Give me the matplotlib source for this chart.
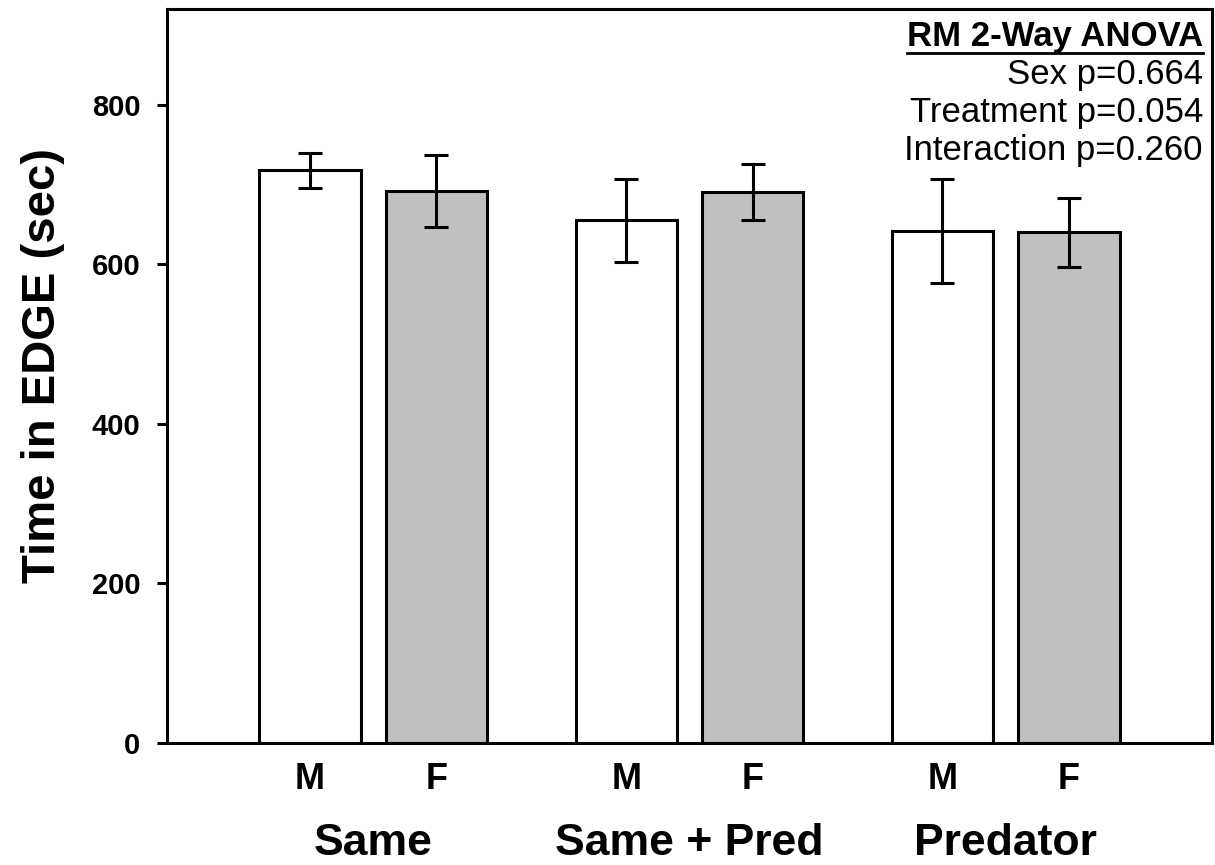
import numpy as np
import matplotlib
matplotlib.use('Agg')
import matplotlib.pyplot as plt
import matplotlib.transforms as mtransforms
from matplotlib.lines import Line2D

# data
groups = ['Same', 'Same + Pred', 'Predator']
sexes = ['M', 'F']
male_mean = [718, 655, 642]
male_err = [22, 52, 65]
female_mean = [692, 691, 640]
female_err = [45, 35, 43]
stats_title = 'RM 2-Way ANOVA'
stats_lines = ['Sex p=0.664', 'Treatment p=0.054', 'Interaction p=0.260']

plt.rcParams['font.family'] = ['Liberation Sans', 'DejaVu Sans']

fig = plt.figure(figsize=(12.15, 8.65), dpi=100)
ax = fig.add_axes([0.1374, 0.141, 0.8601, 0.8486])

lw = 2.2
gx = np.arange(len(groups)) * 2.5
xm = gx
xf = gx + 1

ax.bar(xm, male_mean, width=0.8, color='white', edgecolor='black', linewidth=lw, zorder=2)
ax.bar(xf, female_mean, width=0.8, color='#c0c0c0', edgecolor='black', linewidth=lw, zorder=2)
ax.errorbar(xm, male_mean, yerr=male_err, fmt='none', ecolor='black', elinewidth=lw,
            capsize=8.5, capthick=lw, zorder=3)
ax.errorbar(xf, female_mean, yerr=female_err, fmt='none', ecolor='black', elinewidth=lw,
            capsize=8.5, capthick=lw, zorder=3)

ax.set_xlim(-1.13, 7.13)
ax.set_ylim(0, 920)
ax.set_yticks([0, 200, 400, 600, 800])
ax.set_xticks([])
ax.tick_params(axis='y', direction='out', length=7.2, width=lw, pad=12, labelsize=21)
for lab in ax.get_yticklabels():
    lab.set_fontweight('bold')
for s in ax.spines.values():
    s.set_linewidth(lw)

ax.set_ylabel('Time in EDGE (sec)', fontsize=34, fontweight='bold')
ax.yaxis.set_label_coords(-0.098, 0.515)

trans = mtransforms.blended_transform_factory(ax.transData, ax.transAxes)
for i in range(len(groups)):
    ax.text(xm[i], -0.049, sexes[0], transform=trans, ha='center', va='center',
            fontsize=26, fontweight='bold')
    ax.text(xf[i], -0.049, sexes[1], transform=trans, ha='center', va='center',
            fontsize=26, fontweight='bold')
    ax.text((xm[i] + xf[i]) / 2, -0.137, groups[i], transform=trans, ha='center',
            va='center', fontsize=32, fontweight='bold')

title = ax.text(0.9914, 0.95, stats_title, transform=ax.transAxes, ha='right',
                va='baseline', fontsize=25, fontweight='bold')
ys = [0.898, 0.846, 0.794]
for y, t in zip(ys, stats_lines):
    ax.text(0.9914, y, t, transform=ax.transAxes, ha='right', va='baseline', fontsize=25)

# underline the heading
fig.canvas.draw()
bb = title.get_window_extent(fig.canvas.get_renderer())
x0, x1 = fig.transFigure.inverted().transform([(bb.x0, 0), (bb.x1, 0)])[:, 0]
yb = ax.transAxes.transform((0, 0.95))[1] - 7
yb = fig.transFigure.inverted().transform((0, yb))[1]
fig.add_artist(Line2D([x0, x1], [yb, yb], transform=fig.transFigure, color='black', linewidth=2))

fig.savefig('out.png', dpi=100)
